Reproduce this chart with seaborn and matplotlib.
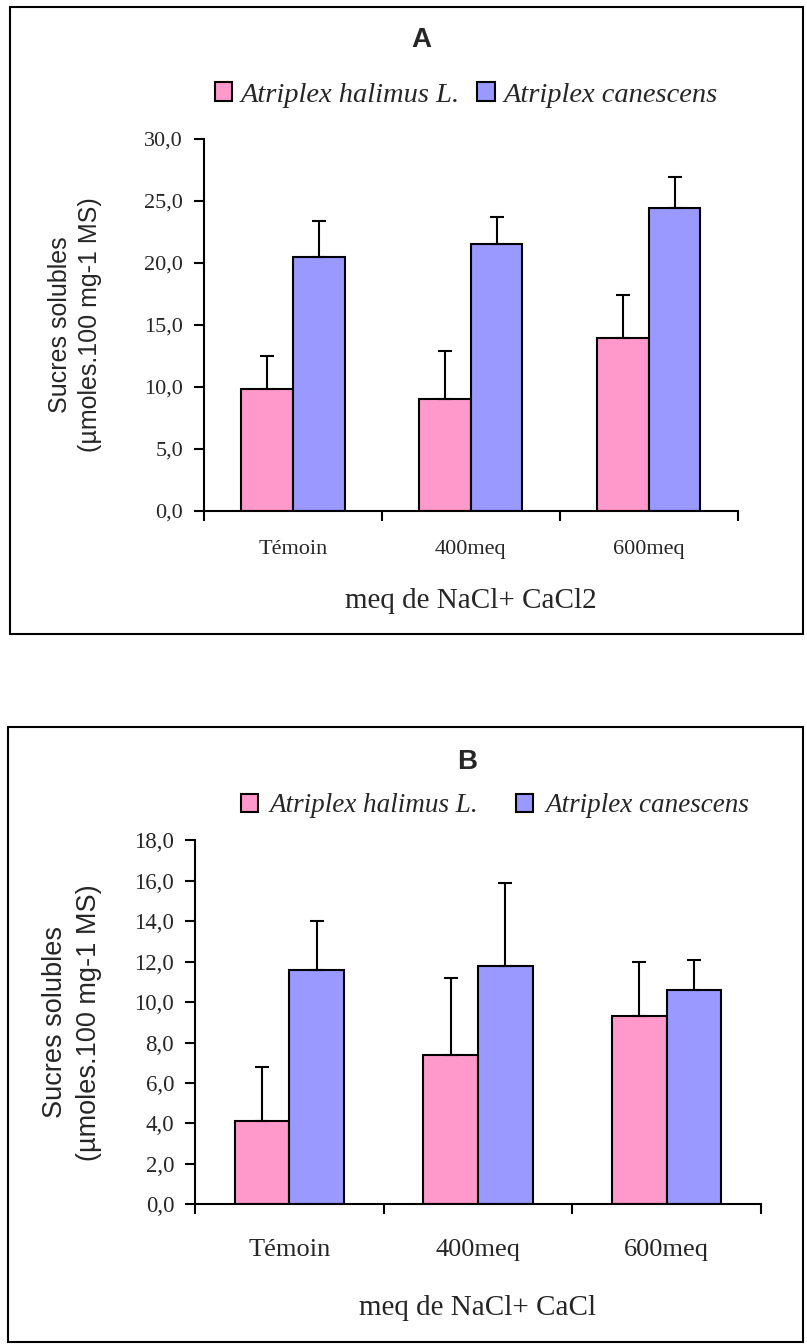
import matplotlib
matplotlib.use("Agg")
import matplotlib.pyplot as plt
import matplotlib.ticker as mticker
from matplotlib.patches import Rectangle
import seaborn as sns
import pandas as pd

# ---------------- data ----------------
categories = ["Témoin", "400meq", "600meq"]
species = ["Atriplex halimus L.", "Atriplex canescens"]

a_halimus = [9.8, 9.0, 13.9]
a_halimus_err = [2.7, 3.9, 3.5]
a_canescens = [20.5, 21.5, 24.4]
a_canescens_err = [2.9, 2.2, 2.5]

b_halimus = [4.1, 7.4, 9.3]
b_halimus_err = [2.7, 3.8, 2.7]
b_canescens = [11.6, 11.8, 10.6]
b_canescens_err = [2.4, 4.1, 1.5]

a_yticks = [0, 5, 10, 15, 20, 25, 30]
b_yticks = [0, 2, 4, 6, 8, 10, 12, 14, 16, 18]

ylabel_text = "Sucres solubles\n(µmoles.100 mg-1 MS)"
a_xlabel = "meq de NaCl+ CaCl2"
b_xlabel = "meq de NaCl+ CaCl"

colors = ["#FF99CC", "#9999FF"]

sns.set_style("ticks")
plt.rcParams["font.family"] = ["Liberation Serif", "DejaVu Serif"]

W, H = 807, 1344
fig = plt.figure(figsize=(W / 100, H / 100), dpi=100)


def axes_rect(left, right, top, bottom):
    return [left / W, 1 - bottom / H, (right - left) / W, (bottom - top) / H]


def make_df(v1, v2):
    rows = []
    for c, v in zip(categories, v1):
        rows.append({"cat": c, "sp": species[0], "val": v})
    for c, v in zip(categories, v2):
        rows.append({"cat": c, "sp": species[1], "val": v})
    return pd.DataFrame(rows)


def panel(rect, v1, e1, v2, e2, yticks, title, title_xy, xlabel,
          tick_fs, xtick_fs, ylab_fs, ylab_x, xlab_y, xtick_pad,
          leg_xy, leg_fs, leg_htp, leg_cs, ylab_ls):
    ax = fig.add_axes(rect)
    df = make_df(v1, v2)
    sns.barplot(data=df, x="cat", y="val", hue="sp", order=categories,
                hue_order=species, palette=colors, width=0.58,
                edgecolor="black", linewidth=1.5, errorbar=None,
                saturation=1, ax=ax)
    for cont, errs in zip(ax.containers, [e1, e2]):
        for p, e in zip(cont.patches, errs):
            xc = p.get_x() + p.get_width() / 2
            ax.errorbar(xc, p.get_height(), yerr=[[0], [e]], fmt="none",
                        ecolor="black", elinewidth=1.5, capsize=5,
                        capthick=1.5, zorder=3)
    ax.set_ylim(yticks[0], yticks[-1])
    ax.set_yticks(yticks)
    ax.yaxis.set_major_formatter(mticker.FuncFormatter(
        lambda v, pos: f"{v:.1f}".replace(".", ",")))
    ax.set_xlim(-0.5, len(categories) - 0.5)
    ax.set_xticks([i - 0.5 for i in range(len(categories) + 1)])
    ax.set_xticklabels([""] * (len(categories) + 1))
    ax.set_xticks(range(len(categories)), minor=True)
    ax.set_xticklabels(categories, minor=True, fontsize=xtick_fs)
    ax.tick_params(axis="x", which="minor", length=0, pad=xtick_pad)
    ax.tick_params(axis="x", which="major", length=7, width=1.5,
                   direction="out", color="black")
    ax.tick_params(axis="y", length=7, width=1.5, direction="out",
                   labelsize=tick_fs, pad=8, color="black")
    for s in ["top", "right"]:
        ax.spines[s].set_visible(False)
    for s in ["left", "bottom"]:
        ax.spines[s].set_linewidth(1.5)
        ax.spines[s].set_color("black")
    ax.set_ylabel(ylabel_text, fontsize=ylab_fs,
                  family=["Liberation Sans", "DejaVu Sans"],
                  va="center", ha="center", linespacing=ylab_ls)
    ax.yaxis.set_label_coords(ylab_x, 0.5)
    ax.set_xlabel(xlabel, fontsize=21, va="center")
    ax.xaxis.set_label_coords(0.5, xlab_y)
    ax.text(title_xy[0], title_xy[1], title, transform=ax.transAxes,
            ha="center", va="center", fontsize=20, fontweight="bold",
            family=["Liberation Sans", "DejaVu Sans"])
    if ax.get_legend() is not None:
        ax.get_legend().remove()
    ax.legend(handles=list(ax.containers), labels=species, ncol=2,
              loc="center", bbox_to_anchor=leg_xy,
              bbox_transform=fig.transFigure, frameon=False,
              prop={"family": "Liberation Serif", "style": "italic",
                    "size": leg_fs},
              handlelength=0.62, handleheight=0.62,
              handletextpad=leg_htp, columnspacing=leg_cs, borderpad=0)
    return ax


# Panel A
panel(axes_rect(204, 737.7, 139, 510.7), a_halimus, a_halimus_err,
      a_canescens, a_canescens_err, a_yticks, "A",
      ((421 - 204) / 533.7, (510.7 - 40) / 371.7), a_xlabel,
      tick_fs=16, xtick_fs=16, ylab_fs=18, ylab_x=(75 - 204) / 533.7,
      xlab_y=(510.7 - 601) / 371.7, xtick_pad=21,
      leg_xy=(466 / W, 1 - 95 / H), leg_fs=20.5, leg_htp=0.3,
      leg_cs=0.6, ylab_ls=1.3)

# Panel B
panel(axes_rect(195, 761, 840.3, 1204.3), b_halimus, b_halimus_err,
      b_canescens, b_canescens_err, b_yticks, "B",
      ((467 - 195) / 566, (1204.3 - 762) / 364), b_xlabel,
      tick_fs=16.5, xtick_fs=19, ylab_fs=19.5, ylab_x=(72 - 195) / 566,
      xlab_y=(1204.3 - 1308) / 364, xtick_pad=25,
      leg_xy=(495 / W, 1 - 806 / H), leg_fs=19.5, leg_htp=0.45,
      leg_cs=1.4, ylab_ls=1.4)

# panel frames
for (x0, y0, x1, y1) in [(10, 7, 803, 634), (8, 727, 803, 1342)]:
    fig.add_artist(Rectangle((x0 / W, 1 - y1 / H), (x1 - x0) / W,
                             (y1 - y0) / H, transform=fig.transFigure,
                             fill=False, lw=1.5, ec="black"))

fig.savefig("out.png", dpi=100)
